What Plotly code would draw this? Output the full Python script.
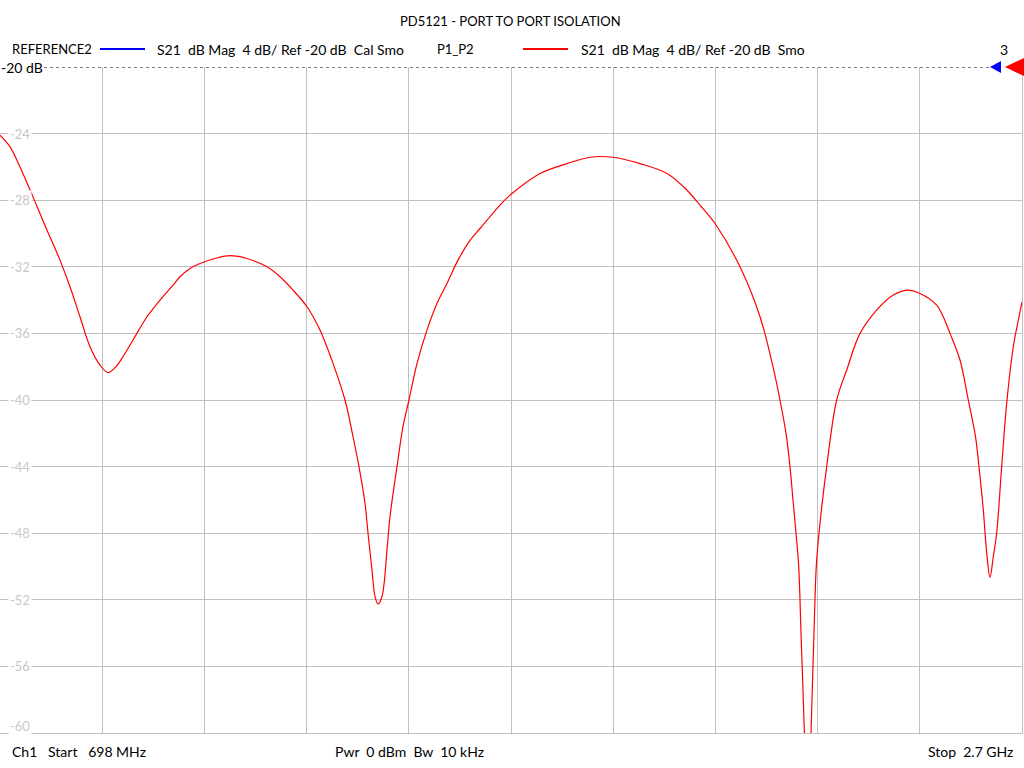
import plotly.graph_objects as go

# ---- data ----
freq_mhz = [698.0, 717.6, 737.2, 762.6, 790.1, 815.5, 835.1, 854.7, 874.3, 893.9,
            909.6, 925.2, 940.9, 958.5, 986.0, 1011.4, 1036.9, 1050.6, 1070.2, 1089.8,
            1119.2, 1148.5, 1181.8, 1221.0, 1246.5, 1272.0, 1299.4, 1324.8, 1350.3, 1373.8,
            1389.5, 1401.2, 1413.0, 1418.9, 1426.7, 1432.6, 1438.5, 1446.3, 1456.1, 1462.0,
            1475.7, 1487.4, 1499.2, 1514.9, 1534.4, 1554.0, 1573.6, 1595.2, 1616.7, 1638.3,
            1683.3, 1701.0, 1755.8, 1808.7, 1853.8, 1898.8, 1951.7, 2004.6, 2043.8, 2069.2,
            2098.6, 2147.6, 2186.8, 2212.2, 2225.9, 2237.7, 2245.5, 2251.4, 2257.3, 2262.6,
            2267.1, 2271.6, 2275.9, 2280.2, 2284.7, 2288.6, 2292.5, 2297.0, 2302.3, 2317.4,
            2337.0, 2356.6, 2382.7, 2415.3, 2447.9, 2474.1, 2500.2, 2532.9, 2545.7, 2559.0,
            2578.5, 2594.8, 2608.9, 2616.4, 2624.2, 2630.9, 2637.3, 2643.8, 2650.4, 2660.2,
            2670.0, 2683.0, 2692.8, 2700.0]
s21_db = [-24.1, -24.8, -26.0, -27.8, -29.8, -31.6, -33.2, -35.0, -36.8, -37.9,
          -38.35, -38.0, -37.3, -36.4, -35.0, -34.0, -33.1, -32.6, -32.1, -31.8,
          -31.5, -31.33, -31.5, -32.0, -32.6, -33.4, -34.4, -35.8, -37.8, -40.0,
          -42.2, -44.0, -46.2, -48.0, -50.2, -51.8, -52.25, -51.8, -49.0, -47.0,
          -44.0, -41.6, -40.0, -37.8, -35.8, -34.2, -33.0, -31.6, -30.5, -29.7,
          -28.1, -27.6, -26.4, -25.8, -25.42, -25.42, -25.8, -26.4, -27.4, -28.3,
          -29.4, -32.0, -35.0, -38.0, -40.0, -42.0, -44.0, -46.0, -48.0, -50.0,
          -54.0, -58.0, -62.0, -65.0, -62.0, -58.0, -54.0, -50.0, -48.0, -44.0,
          -40.0, -38.2, -36.0, -34.6, -33.7, -33.4, -33.6, -34.3, -35.0, -36.0,
          -37.6, -40.0, -42.2, -44.2, -46.6, -49.2, -50.65, -49.4, -48.0, -44.0,
          -40.2, -36.8, -35.2, -34.1]

start_mhz = 698.0
stop_mhz = 2700.0
ref_db = -20.0
scale_db = 4.0
n_div = 10
y_ticks = [-24, -28, -32, -36, -40, -44, -48, -52, -56, -60]

title = "PD5121 - PORT TO PORT ISOLATION"
trace1_name = "REFERENCE2"
trace1_desc = "S21  dB Mag  4 dB/ Ref -20 dB  Cal Smo"
trace2_name = "P1_P2"
trace2_desc = "S21  dB Mag  4 dB/ Ref -20 dB  Smo"
footer_left = "Ch1   Start   698 MHz"
footer_mid = "Pwr  0 dBm  Bw  10 kHz"
footer_right = "Stop  2.7 GHz"

# ---- layout geometry (pixels) ----
W, H = 1024, 768
ML, MR, MT, MB = 0, 2, 67, 35
PW = W - ML - MR
PH = H - MT - MB
FONT = "Lato"
FS = 14
FS_CAPS = 13
GRID = "#c0c0c0"


def px(x):
    return (x - ML) / PW


def py(y):
    return (H - MB - y) / PH


def keep_spaces(s):
    return s.replace(" ", "\u00a0")


y_bottom = ref_db - scale_db * n_div

fig = go.Figure()
fig.add_trace(go.Scatter(
    x=freq_mhz, y=s21_db, mode="lines",
    line=dict(color="#ff0000", width=1.2, shape="spline", smoothing=1.0),
    hoverinfo="skip", showlegend=False, cliponaxis=True,
))

annotations = []
shapes = []


def text(t, x, y, anchor="left", color="#000", size=FS):
    annotations.append(dict(text=keep_spaces(t), x=px(x), y=py(y), xref="paper", yref="paper",
                            showarrow=False, xanchor=anchor, yanchor="middle",
                            font=dict(family=FONT, size=size, color=color)))


text(title, 510, 21, "center", size=FS_CAPS)
legend_y = 49
text(trace1_name, 10, legend_y, size=FS_CAPS)
shapes.append(dict(type="line", xref="paper", yref="paper", x0=px(100), x1=px(145),
                   y0=py(legend_y), y1=py(legend_y), line=dict(color="#0000ff", width=2)))
text(trace1_desc, 155, legend_y)
text(trace2_name, 435, legend_y, size=FS_CAPS)
shapes.append(dict(type="line", xref="paper", yref="paper", x0=px(523), x1=px(568),
                   y0=py(legend_y), y1=py(legend_y), line=dict(color="#ff0000", width=2)))
text(trace2_desc, 579, legend_y)
text("3", 1010, legend_y, "right")

foot_y = 751
text(footer_left, 10, foot_y)
text(footer_mid, 333, foot_y)
text(footer_right, 1015, foot_y, "right")

# y tick labels (inside the plot, on white background)
for v in y_ticks:
    shift = 7 if v == y_bottom else 0
    annotations.append(dict(text=str(v), x=px(8), y=v, xref="paper", yref="y",
                            yshift=shift, showarrow=False, xanchor="left", yanchor="middle",
                            bgcolor="white", borderpad=1,
                            font=dict(family=FONT, size=13, color="#c8c8c8")))

# reference line + label
shapes.append(dict(type="line", xref="paper", yref="y", x0=px(44), x1=px(994),
                   y0=ref_db, y1=ref_db, line=dict(color="#000", width=1, dash="dot")))
annotations.append(dict(text=keep_spaces("-20 dB"), x=px(0), y=ref_db, xref="paper", yref="y",
                        showarrow=False, xanchor="left", yanchor="middle",
                        bgcolor="white", borderpad=0,
                        font=dict(family=FONT, size=14, color="#000")))
# reference markers (triangles)
shapes.append(dict(type="path", xref="paper", yref="paper",
                   path=f"M {px(990)},{py(67)} L {px(1001)},{py(61)} L {px(1001)},{py(73)} Z",
                   fillcolor="#0000ff", line=dict(width=0)))
shapes.append(dict(type="path", xref="paper", yref="paper",
                   path=f"M {px(1005)},{py(67)} L {px(1024)},{py(58)} L {px(1024)},{py(76)} Z",
                   fillcolor="#ff0000", line=dict(width=0)))

fig.update_layout(
    width=W, height=H,
    margin=dict(l=ML, r=MR, t=MT, b=MB),
    paper_bgcolor="white", plot_bgcolor="white",
    showlegend=False,
    annotations=annotations, shapes=shapes,
    xaxis=dict(range=[start_mhz, stop_mhz], tick0=start_mhz,
               dtick=(stop_mhz - start_mhz) / n_div,
               showgrid=True, gridcolor=GRID, gridwidth=1,
               showticklabels=False, ticks="", zeroline=False,
               showline=True, linecolor=GRID, linewidth=1, mirror=False),
    yaxis=dict(range=[y_bottom, ref_db], tick0=ref_db, dtick=scale_db,
               showgrid=True, gridcolor=GRID, gridwidth=1,
               showticklabels=False, ticks="", zeroline=False,
               showline=True, linecolor=GRID, linewidth=1, mirror=True),
)

fig.write_html("out.html", config={"displayModeBar": False},
               post_script="document.body.style.margin='0';document.body.style.overflow='hidden';")
